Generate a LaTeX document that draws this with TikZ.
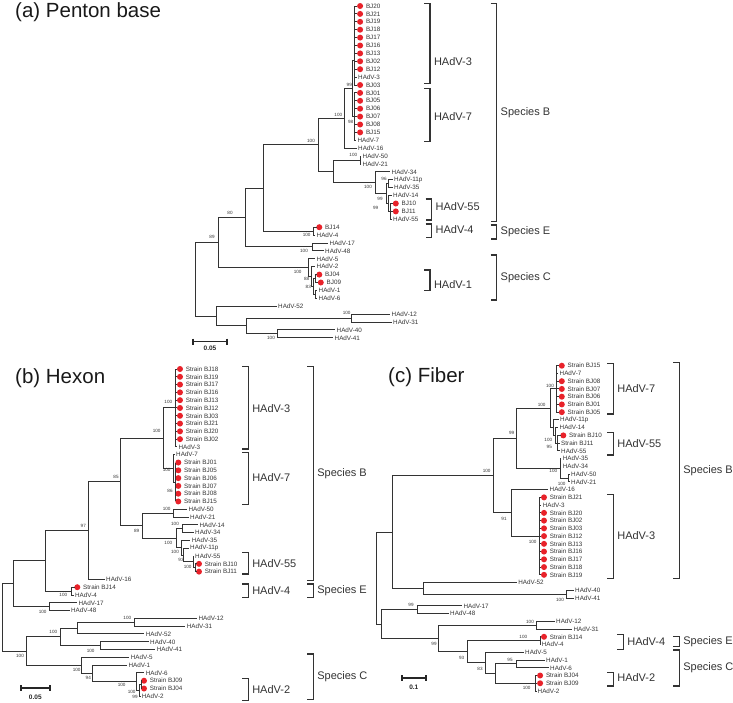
\documentclass[tikz,border=0pt]{standalone}
\usepackage{fontspec}
\setmainfont{Liberation Sans}
\definecolor{rojo}{HTML}{E8222A}
\definecolor{tinta}{HTML}{333333}
\newcommand{\punto}[1]{
	\fill [rojo] ([xshift=2.8pt]#1) circle (3pt);
	}
\newcommand{\llave}[6]{
	\draw [corchete] (#2,#3) ++(-6,0) -- (#2,#3) -- (#2,#4) -- ++(-6,0);
	\node [grupo] (#1) at ({#2+3.8},#5) {#6};
	}

\begin{document}
\begin{tikzpicture}[x=1pt,y=-1pt,
	rama/.style={draw=tinta, line width=1pt},
	corchete/.style={draw=tinta, line width=1.2pt},
	escala/.style={draw=black!85, line width=1.7pt},
	hoja/.style={anchor=west, inner sep=0pt, text=tinta, font=\fontsize{6.3}{7}\selectfont},
	soporte/.style={inner sep=0pt, text=tinta, font=\fontsize{4.6}{5}\selectfont},
	escalatxt/.style={inner sep=0pt, text=black!85, font=\bfseries\fontsize{6.5}{7}\selectfont},
	grupo/.style={anchor=west, inner sep=0pt, text=tinta, font=\fontsize{11}{13}\selectfont},
	titulo/.style={anchor=west, inner sep=0pt, text=black!90, font=\fontsize{20.5}{24}\selectfont}]
	\useasboundingbox (0,0) rectangle (733,702);
	% (a) Penton base
	\node [titulo] (tituloA) at (15,12.5) {(a) Penton base};
	\foreach \x/\t/\m [count=\i from 0] in {357.3/BJ20/1,357.3/BJ21/1,357.3/BJ19/1,357.3/BJ18/1,357.3/BJ17/1,357.3/BJ16/1,357.3/BJ13/1,357.3/BJ02/1,357.3/BJ12/1,356.5/HAdV-3/0,357.3/BJ03/1,357.3/BJ01/1,357.3/BJ05/1,357.3/BJ06/1,357.3/BJ07/1,357.3/BJ08/1,357.3/BJ15/1,355.8/HAdV-7/0,356.5/HAdV-16/0,361/HAdV-50/0,361/HAdV-21/0,390/HAdV-34/0,392.5/HAdV-11p/0,392.5/HAdV-35/0,391.5/HAdV-14/0,393/BJ10/1,393/BJ11/1,391.5/HAdV-55/0,316.5/BJ14/1,315/HAdV-4/0,328/HAdV-17/0,323.5/HAdV-48/0,315/HAdV-5/0,315/HAdV-2/0,316.5/BJ04/1,318/BJ09/1,317/HAdV-1/0,317/HAdV-6/0,276.5/HAdV-52/0,390/HAdV-12/0,391.5/HAdV-31/0,335/HAdV-40/0,333/HAdV-41/0}{
		\coordinate (ha\i) at (\x,{6+7.9*\i});
		\ifnum\m=1
			\punto{ha\i}
			\node [hoja] (ta\i) at ([xshift=8.5pt]ha\i) {\t};
		\else
			\node [hoja] (ta\i) at ([xshift=1.5pt]ha\i) {\t};
		\fi
	}
	\foreach \n/\x/\y in {aR/195/279.35,aA/218/242.6,a80/245.5/217.5,aBE/263/188,aB/318/144.8,a316/344.3/118.25,a37/352/88.3,a3c/354.5/60,a7c/354.5/116.6,a333/333.3/171.4,a5021/360/160.05,a34n/375/182.75,a2n/386/193.6,a1135/388/183.75,a14n/388.5/203.5,a55n/390/211.4,aE/313/231.15,a1748/312/246.95,aC/308.3/267.7,aC2/311.5/276.6,aC3/313.5/286.45,aC4/315/278.55,aC5/315.5/294.35,aF/216.7/316.1,aG/246.7/325.95,a1231/351.7/318.05,a4041/277.7/333.85}
		\coordinate (\n) at (\x,\y);
	\foreach \p/\h in {aR/aA,aR/aF,aA/a80,aA/aC,a80/aBE,a80/a1748,aBE/aB,aBE/aE,aB/a316,aB/a333,a316/a37,a316/ha18,a37/a3c,a37/a7c,a333/a5021,a333/a34n,a5021/ha19,a5021/ha20,a34n/ha21,a34n/a2n,a2n/a1135,a2n/a14n,a1135/ha22,a1135/ha23,a14n/ha24,a14n/a55n,a55n/ha25,a55n/ha26,a55n/ha27,aE/ha28,aE/ha29,a1748/ha30,a1748/ha31,aC/ha32,aC/aC2,aC2/ha33,aC2/aC3,aC3/aC4,aC3/aC5,aC4/ha34,aC4/ha35,aC5/ha36,aC5/ha37,aF/ha38,aF/aG,aG/a1231,aG/a4041,a1231/ha39,a1231/ha40,a4041/ha41,a4041/ha42}
		\draw [rama] (\p) |- (\h);
	\foreach \h in {0,...,10}
		\draw [rama] (a3c) |- (ha\h);
	\foreach \h in {11,...,17}
		\draw [rama] (a7c) |- (ha\h);
	\foreach \x/\y/\v [count=\k] in {349.3/84.5/99,338.3/115/100,350.7/121.7/98,311/140.5/100,353.3/155.3/100,368/186.7/100,384/179/96,380/198.5/99,375.7/208.3/99,306.7/235.3/100,230/213/80,212/237/89,304/251/100,297.7/271.7/100,306.7/279/88,308.3/287.3/83,346.7/312.7/100,271/337.7/100}
		\node [soporte] (sa\k) at (\x,\y) {\v};
	\draw [escala] (193.3,338.5) -- (193.3,344.5) (193.3,341.5) -- (226.7,341.5) (226.7,338.5) -- (226.7,344.5);
	\node [escalatxt] (escA) at (210,348.5) {0.05};
	\llave{gA3}{430}{3.3}{83.3}{61.7}{HAdV-3}
	\llave{gA7}{430}{88.3}{141.7}{116.7}{HAdV-7}
	\llave{gA55}{431.7}{199}{220}{206.7}{HAdV-55}
	\llave{gA4}{431.7}{224}{237.3}{230}{HAdV-4}
	\llave{gA1}{430}{270}{290.7}{285}{HAdV-1}
	\llave{eAB}{496.7}{3.3}{221.7}{112.3}{Species B}
	\llave{eAE}{496.7}{225}{239}{231.7}{Species E}
	\llave{eAC}{496.7}{255}{300}{277.3}{Species C}
	% (b) Hexon
	\node [titulo] (tituloB) at (15,378.3) {(b) Hexon};
	\foreach \x/\t/\m [count=\i from 0] in {177.2/Strain BJ18/1,177.2/Strain BJ19/1,177.2/Strain BJ17/1,177.2/Strain BJ16/1,177.2/Strain BJ13/1,177.2/Strain BJ12/1,177.2/Strain BJ03/1,177.2/Strain BJ21/1,177.2/Strain BJ20/1,177.2/Strain BJ02/1,176.8/HAdV-3/0,174.5/HAdV-7/0,175.5/Strain BJ01/1,175.5/Strain BJ05/1,175.5/Strain BJ06/1,175.5/Strain BJ07/1,175.5/Strain BJ08/1,175.5/Strain BJ15/1,186.8/HAdV-50/0,188.5/HAdV-21/0,197.8/HAdV-14/0,193.5/HAdV-34/0,190.2/HAdV-35/0,188.5/HAdV-11p/0,193.5/HAdV-55/0,196.2/Strain BJ10/1,196.2/Strain BJ11/1,104.5/HAdV-16/0,74.5/Strain BJ14/1,73.5/HAdV-4/0,76.8/HAdV-17/0,69.5/HAdV-48/0,196.8/HAdV-12/0,185.2/HAdV-31/0,144.2/HAdV-52/0,148.5/HAdV-40/0,155.2/HAdV-41/0,129.2/HAdV-5/0,126.8/HAdV-1/0,144.2/HAdV-6/0,141.2/Strain BJ09/1,141.2/Strain BJ04/1,140.2/HAdV-2/0}{
		\coordinate (hb\i) at (\x,{369+7.793*\i});
		\ifnum\m=1
			\punto{hb\i}
			\node [hoja] (tb\i) at ([xshift=8.5pt]hb\i) {\t};
		\else
			\node [hoja] (tb\i) at ([xshift=1.5pt]hb\i) {\t};
		\fi
	}
	\foreach \n/\x/\y in {bR/2/617.45,bX/13.3/583.8,bY/45/560.9,b97/88.3/530.65,b85/120/481.9,b37/163.3/438.15,b3c/175/407.95,b7/173.3/468.35,b7c/175.5/482,b89/142.7/525.7,b5021/173.3/513.2,bB2/176/538.25,b1434/182.7/528.8,bRest/181/547.7,bR2/183/555,bR3/193/561.85,bBJ/195.5/567.7,bE/71.7/591.1,b1748/49.3/606.7,bLow/26/651.1,bL1/60/636.9,bL2/77.7/628.15,b1231/134.3/622.3,b4041/100/645.6,bC/81.7/665.35,bC2/92.7/673.4,bC3/136/681.7,bC4/139.5/690.45,bBJ2/141.3/684.6}
		\coordinate (\n) at (\x,\y);
	\foreach \p/\h in {bR/bX,bR/bLow,bX/bY,bX/b1748,bY/b97,bY/bE,b97/b85,b97/hb27,b85/b37,b85/b89,b37/b3c,b37/b7,b7/hb11,b7/b7c,b89/b5021,b89/bB2,b5021/hb18,b5021/hb19,bB2/b1434,bB2/bRest,b1434/hb20,b1434/hb21,bRest/hb22,bRest/bR2,bR2/hb23,bR2/bR3,bR3/hb24,bR3/bBJ,bBJ/hb25,bBJ/hb26,bE/hb28,bE/hb29,b1748/hb30,b1748/hb31,bLow/bL1,bLow/bC,bL1/bL2,bL1/b4041,bL2/b1231,bL2/hb34,b1231/hb32,b1231/hb33,b4041/hb35,b4041/hb36,bC/hb37,bC/bC2,bC2/hb38,bC2/bC3,bC3/hb39,bC3/bC4,bC4/bBJ2,bC4/hb42,bBJ2/hb40,bBJ2/hb41}
		\draw [rama] (\p) |- (\h);
	\foreach \h in {0,...,10}
		\draw [rama] (b3c) |- (hb\h);
	\foreach \h in {12,...,17}
		\draw [rama] (b7c) |- (hb\h);
	\foreach \x/\y/\v [count=\k] in {168.3/402.3/100,156.7/431/100,166.7/470/100,170/491/86,116/476.7/85,83.3/525.7/97,166.7/509/100,136.7/531/89,175/524.3/100,168.3/543.3/100,175/551.7/100,181/560/93,187.7/567.3/100,63.3/595/100,42.7/612.3/100,20/656/100,53.3/632.3/100,127.3/618.3/100,90.7/651/100,76.7/670/100,88.3/677.7/94,121.7/685/100,131.7/692.3/100,135/697.3/99}
		\node [soporte] (sb\k) at (\x,\y) {\v};
	\draw [escala] (20.7,685.3) -- (20.7,691.3) (20.7,688.3) -- (50,688.3) (50,685.3) -- (50,691.3);
	\node [escalatxt] (escB) at (35.3,697.3) {0.05};
	\llave{gB3}{248.3}{366.7}{449}{408.3}{HAdV-3}
	\llave{gB7}{248.3}{452.3}{504.3}{477.3}{HAdV-7}
	\llave{gB55}{248.3}{552.7}{574}{563.3}{HAdV-55}
	\llave{gB4}{248.3}{584}{597.3}{590.7}{HAdV-4}
	\llave{gB2}{248.3}{678.3}{700.7}{689.3}{HAdV-2}
	\llave{eBB}{313.3}{366.7}{580.7}{474}{Species B}
	\llave{eBE}{313.3}{584}{597.3}{590.7}{Species E}
	\llave{eBC}{313.3}{654}{699.3}{676.7}{Species C}
	% (c) Fiber
	\node [titulo] (tituloC) at (388,377.5) {(c) Fiber};
	\foreach \x/\t/\m [count=\i from 0] in {559/Strain BJ15/1,558/HAdV-7/0,559/Strain BJ08/1,559/Strain BJ07/1,559/Strain BJ06/1,559/Strain BJ01/1,559/Strain BJ05/1,558.5/HAdV-11p/0,558/HAdV-14/0,560.5/Strain BJ10/1,559.5/Strain BJ11/0,559.5/HAdV-55/0,561.2/HAdV-35/0,561.2/HAdV-34/0,569.5/HAdV-50/0,569.5/HAdV-21/0,548/HAdV-16/0,541.2/Strain BJ21/1,541.2/HAdV-3/0,541.2/Strain BJ20/1,541.2/Strain BJ02/1,541.2/Strain BJ03/1,541.2/Strain BJ12/1,541.2/Strain BJ13/1,541.2/Strain BJ16/1,541.2/Strain BJ17/1,541.2/Strain BJ18/1,541.2/Strain BJ19/1,516.7/HAdV-52/0,573.5/HAdV-40/0,573.5/HAdV-41/0,461.8/HAdV-17/0,448.5/HAdV-48/0,554.5/HAdV-12/0,571.8/HAdV-31/0,541.2/Strain BJ14/1,540.2/HAdV-4/0,523.5/HAdV-5/0,544.5/HAdV-1/0,548.5/HAdV-6/0,537.3/Strain BJ04/1,537.3/Strain BJ09/1,536/HAdV-2/0}{
		\coordinate (hc\i) at (\x,{365.7+7.745*\i});
		\ifnum\m=1
			\punto{hc\i}
			\node [hoja] (tc\i) at ([xshift=8.5pt]hc\i) {\t};
		\else
			\node [hoja] (tc\i) at ([xshift=1.5pt]hc\i) {\t};
		\fi
	}
	\foreach \n/\x/\y in {cR/376.7/578.05,c100/392.3/532,c493/493.3/475.6,c99/516.7/438.3,cU/550/408.3,c7/556.7/388.95,c55g/553/427.65,c14/555/435.4,c55/557.3/443.15,cV/560/468.3,c5021/568.3/478,c91/511/512.85,c3/539/536.1,c52/423.3/588.4,c4041/566.7/594.2,cL/381.7/624.1,c1748/417.7/609.65,c438/438.3/638.5,c1231/536/625.15,c467/467/651.8,cE/540/640.65,c485/485/662.95,c495/495/673.6,c1/516.7/663.9,cBJ/535.7/683.25}
		\coordinate (\n) at (\x,\y);
	\foreach \p/\h in {cR/c100,cR/cL,c100/c493,c100/c52,c493/c99,c493/c91,c99/cU,c99/cV,cU/c7,cU/c55g,c55g/hc7,c55g/c14,c14/hc8,c14/c55,c55/hc9,c55/hc10,c55/hc11,cV/hc12,cV/hc13,cV/c5021,c5021/hc14,c5021/hc15,c91/hc16,c91/c3,c52/hc28,c52/c4041,c4041/hc29,c4041/hc30,cL/c1748,cL/c438,c1748/hc31,c1748/hc32,c438/c1231,c438/c467,c1231/hc33,c1231/hc34,c467/cE,c467/c485,cE/hc35,cE/hc36,c485/hc37,c485/c495,c495/c1,c495/cBJ,c1/hc38,c1/hc39,cBJ/hc40,cBJ/hc41,cBJ/hc42}
		\draw [rama] (\p) |- (\h);
	\foreach \h in {0,...,6}
		\draw [rama] (c7) |- (hc\h);
	\foreach \h in {17,...,27}
		\draw [rama] (c3) |- (hc\h);
	\foreach \x/\y/\v [count=\k] in {550/385.7/100,541.7/405/100,511.7/432.7/99,548.3/440/100,549.3/447.3/95,486.7/470.7/100,553.3/470.7/100,561.7/484/100,504/519/91,532.7/541.7/100,560/600/100,411/605/99,530/621.7/100,523.3/636.7/100,434/644/99,461.7/657.7/93,510/660/95,480/669.3/83,526.7/688.3/100}
		\node [soporte] (sc\k) at (\x,\y) {\v};
	\draw [escala] (401.7,675.3) -- (401.7,681.3) (401.7,678.3) -- (426,678.3) (426,675.3) -- (426,681.3);
	\node [escalatxt] (escC) at (413.8,687.3) {0.1};
	\llave{gC7}{613.3}{363.3}{414}{389}{HAdV-7}
	\llave{gC55}{613.3}{432.7}{455}{443.3}{HAdV-55}
	\llave{gC3}{613.3}{494.3}{578.3}{536}{HAdV-3}
	\llave{gC4}{623.3}{634.3}{649.3}{641.7}{HAdV-4}
	\llave{gC2}{613.3}{672.7}{686}{678}{HAdV-2}
	\llave{eCB}{679.3}{362.7}{578.3}{470.7}{Species B}
	\llave{eCE}{679.3}{636.7}{646.7}{641.7}{Species E}
	\llave{eCC}{679.3}{650}{686}{667.3}{Species C}
\end{tikzpicture}
\end{document}
